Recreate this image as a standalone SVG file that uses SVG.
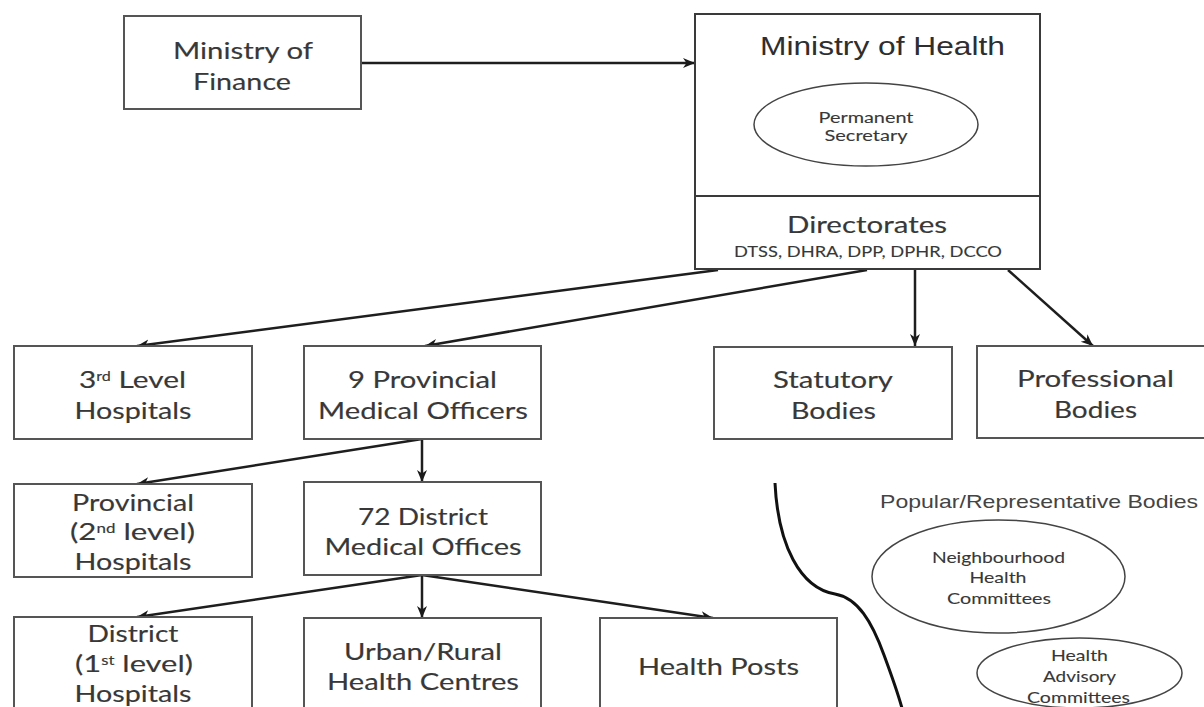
<svg xmlns="http://www.w3.org/2000/svg" width="1204" height="707" viewBox="0 0 1204 707">
<defs>
<marker id="ah" markerWidth="13" markerHeight="11" refX="12" refY="5" orient="auto" markerUnits="userSpaceOnUse" viewBox="0 0 13 11"><path d="M0,0 L12,5 L0,10 L3.5,5 z" fill="#1a1a1a"/></marker>
</defs>
<style>
.box{fill:#fff;stroke:#555;stroke-width:2}
.t{font-family:Lato,"Liberation Sans",sans-serif;fill:#383838;stroke:#383838;stroke-width:0.15;text-anchor:middle}
.a{font-family:"Liberation Sans",Arial,sans-serif;fill:#2e2e2e;text-anchor:middle}
.c{fill:none;stroke:#1e1e1e;stroke-width:2.5;marker-end:url(#ah)}
.el{fill:#fff;stroke:#444;stroke-width:1.5}
.sm{stroke-width:0.1}
.sup{font-size:13px}
</style>
<rect width="1204" height="707" fill="#fff"/>

<g id="connectors">
<line class="c" x1="361" y1="63" x2="695" y2="63"/>
<line class="c" x1="718" y1="270" x2="137" y2="346"/>
<line class="c" x1="867" y1="270" x2="425" y2="346"/>
<line class="c" x1="915" y1="270" x2="915" y2="346"/>
<line class="c" x1="1008" y1="270" x2="1093" y2="346"/>
<line class="c" x1="422" y1="439" x2="137" y2="484"/>
<line class="c" x1="422" y1="439" x2="422" y2="482"/>
<line class="c" x1="422" y1="575" x2="137" y2="617"/>
<line class="c" x1="422" y1="575" x2="422" y2="618"/>
<line class="c" x1="422" y1="575" x2="713" y2="618"/>
</g>

<g id="finance">
<rect class="box" x="124" y="16" width="237" height="93"/>
<text class="t" font-size="24" x="243" y="59" textLength="140" lengthAdjust="spacingAndGlyphs">Ministry of</text>
<text class="t" font-size="24" x="242" y="90" textLength="98" lengthAdjust="spacingAndGlyphs">Finance</text>
</g>

<g id="health">
<rect class="box" x="695" y="14" width="345" height="255" style="stroke:#3a3a3a"/>
<line x1="695" y1="196" x2="1040" y2="196" stroke="#3a3a3a" stroke-width="2"/>
<text class="a" font-size="25" x="882.5" y="55" textLength="245" lengthAdjust="spacingAndGlyphs">Ministry of Health</text>
<text class="t" font-size="23" x="867" y="233" textLength="160" lengthAdjust="spacingAndGlyphs">Directorates</text>
<text class="t sm" font-size="15" x="868" y="257" textLength="268" lengthAdjust="spacingAndGlyphs">DTSS, DHRA, DPP, DPHR, DCCO</text>
</g>

<g id="secretary">
<ellipse class="el" cx="866" cy="124.5" rx="112" ry="41.5"/>
<text class="t sm" font-size="14.5" x="866" y="123" textLength="95" lengthAdjust="spacingAndGlyphs">Permanent</text>
<text class="t sm" font-size="14.5" x="866" y="141" textLength="83" lengthAdjust="spacingAndGlyphs">Secretary</text>
</g>

<g id="third-level">
<rect class="box" x="14" y="346" width="238" height="93"/>
<text class="t" font-size="24" x="132.5" y="388" textLength="107" lengthAdjust="spacingAndGlyphs">3<tspan class="sup" dy="-7">rd</tspan><tspan dy="7"> Level</tspan></text>
<text class="t" font-size="24" x="133" y="419" textLength="117" lengthAdjust="spacingAndGlyphs">Hospitals</text>
</g>

<g id="provincial-officers">
<rect class="box" x="304" y="346" width="237" height="93"/>
<text class="t" font-size="24" x="422.5" y="388" textLength="149" lengthAdjust="spacingAndGlyphs">9 Provincial</text>
<text class="t" font-size="24" x="423" y="419" textLength="210" lengthAdjust="spacingAndGlyphs">Medical Officers</text>
</g>

<g id="statutory">
<rect class="box" x="714" y="347" width="238" height="92"/>
<text class="t" font-size="24" x="833" y="388" textLength="120" lengthAdjust="spacingAndGlyphs">Statutory</text>
<text class="t" font-size="24" x="833.5" y="419" textLength="85" lengthAdjust="spacingAndGlyphs">Bodies</text>
</g>

<g id="professional">
<rect class="box" x="977" y="346" width="237" height="92"/>
<text class="t" font-size="24" x="1095.5" y="387" textLength="157" lengthAdjust="spacingAndGlyphs">Professional</text>
<text class="t" font-size="24" x="1095.5" y="418" textLength="83" lengthAdjust="spacingAndGlyphs">Bodies</text>
</g>

<g id="provincial-hospitals">
<rect class="box" x="14" y="484" width="238" height="93"/>
<text class="t" font-size="24" x="133" y="511" textLength="122" lengthAdjust="spacingAndGlyphs">Provincial</text>
<text class="t" font-size="24" x="132.5" y="540" textLength="125" lengthAdjust="spacingAndGlyphs">(2<tspan class="sup" dy="-7">nd</tspan><tspan dy="7"> level)</tspan></text>
<text class="t" font-size="24" x="133" y="570" textLength="117" lengthAdjust="spacingAndGlyphs">Hospitals</text>
</g>

<g id="district-offices">
<rect class="box" x="304" y="482" width="237" height="93"/>
<text class="t" font-size="24" x="423" y="525" textLength="130" lengthAdjust="spacingAndGlyphs">72 District</text>
<text class="t" font-size="24" x="423" y="555" textLength="197" lengthAdjust="spacingAndGlyphs">Medical Offices</text>
</g>

<g id="district-hospitals">
<rect class="box" x="14" y="617" width="238" height="100"/>
<text class="t" font-size="24" x="133" y="642" textLength="91" lengthAdjust="spacingAndGlyphs">District</text>
<text class="t" font-size="24" x="134" y="672" textLength="118" lengthAdjust="spacingAndGlyphs">(1<tspan class="sup" dy="-7">st</tspan><tspan dy="7"> level)</tspan></text>
<text class="t" font-size="24" x="133" y="702" textLength="117" lengthAdjust="spacingAndGlyphs">Hospitals</text>
</g>

<g id="health-centres">
<rect class="box" x="304" y="618" width="237" height="100"/>
<text class="t" font-size="24" x="423" y="660" textLength="158" lengthAdjust="spacingAndGlyphs">Urban/Rural</text>
<text class="t" font-size="24" x="423" y="690" textLength="192" lengthAdjust="spacingAndGlyphs">Health Centres</text>
</g>

<g id="health-posts">
<rect class="box" x="600" y="618" width="237" height="100"/>
<text class="t" font-size="24" x="718.5" y="675" textLength="161" lengthAdjust="spacingAndGlyphs">Health Posts</text>
</g>

<g id="divider">
<path d="M775,483 C778,545 800,588 835,594 C858,598 872,622 884,655 C894,682 900,700 903,712" fill="none" stroke="#111" stroke-width="3"/>
</g>

<g id="popular">
<text class="a" font-size="19" x="1039" y="508" textLength="318" lengthAdjust="spacingAndGlyphs" style="fill:#444">Popular/Representative Bodies</text>
</g>

<g id="neighbourhood">
<ellipse class="el" cx="998.5" cy="576.5" rx="126.5" ry="56.5"/>
<text class="t sm" font-size="16" x="998.5" y="563" textLength="133" lengthAdjust="spacingAndGlyphs">Neighbourhood</text>
<text class="t sm" font-size="16" x="998" y="583" textLength="57" lengthAdjust="spacingAndGlyphs">Health</text>
<text class="t sm" font-size="16" x="999" y="604" textLength="104" lengthAdjust="spacingAndGlyphs">Committees</text>
</g>

<g id="advisory">
<ellipse class="el" cx="1079.5" cy="673" rx="102.5" ry="35"/>
<text class="t sm" font-size="16" x="1079.5" y="661" textLength="57" lengthAdjust="spacingAndGlyphs">Health</text>
<text class="t sm" font-size="16" x="1079.5" y="682" textLength="73" lengthAdjust="spacingAndGlyphs">Advisory</text>
<text class="t sm" font-size="16" x="1078.5" y="703" textLength="103" lengthAdjust="spacingAndGlyphs">Committees</text>
</g>
</svg>
